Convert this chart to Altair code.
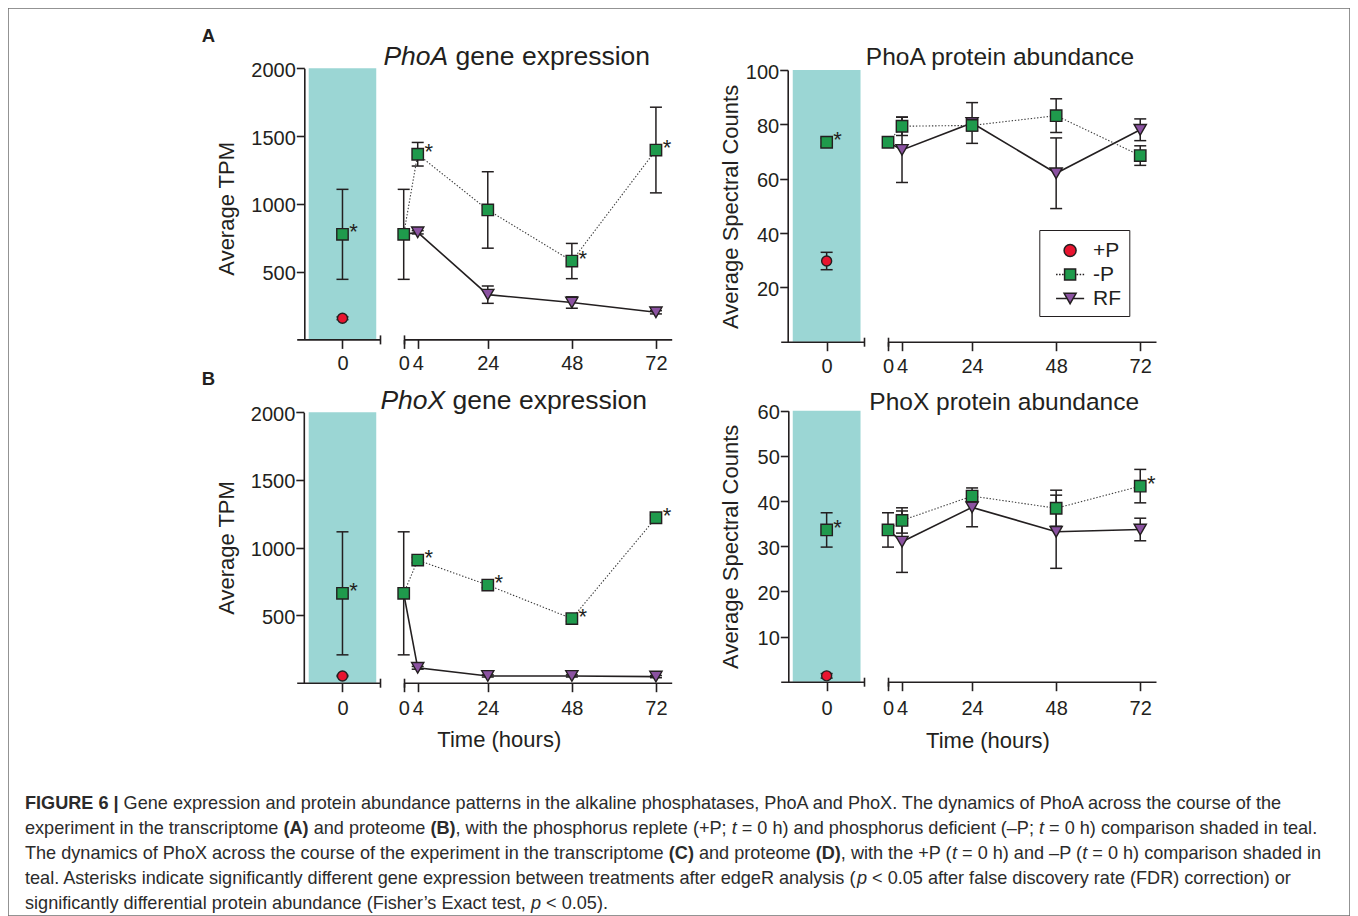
import altair as alt
import pandas as pd

# ----------------------------------------------------------------- data
TIME = [0, 4, 24, 48, 72]          # hours, time-course sub-panel
TIME_RF = [4, 24, 48, 72]          # RF markers (t = 0 is the shared -P sample)
SERIES = ["+P", "-P", "RF"]
SHADE_X = [-0.9, 0.9]              # teal comparison band around t = 0

GENE_Y_TICKS = [500, 1000, 1500, 2000]
PHOA_PROT_TICKS = [20, 40, 60, 80, 100]
PHOX_PROT_TICKS = [10, 20, 30, 40, 50, 60]
TC_X_TICKS = [0, 4, 24, 48, 72]
LEFT_X_TICKS = [0]

# A: PhoA gene expression (Average TPM)
A_PLUS0, A_PLUS0_ERR = 156, 10
A_MINUS = [775, 1366, 955, 578, 1397]
A_MINUS_ERR = [332, 87, 282, 130, 316]
A_RF = [775, 790, 330, 272, 200]
A_RF_ERR = [12, 64, 42, 12]
A_STARS = [4, 48, 72]

# B: PhoX gene expression (Average TPM)
B_PLUS0, B_PLUS0_ERR = 50, 5
B_MINUS = [661, 907, 722, 474, 1220]
B_MINUS_ERR = [455, 20, 20, 20, 20]
B_RF = [661, 110, 50, 50, 45]
B_RF_ERR = [10, 8, 8, 8]
B_STARS = [4, 24, 48, 72]

# C: PhoA protein abundance (Average Spectral Counts)
C_PLUS0, C_PLUS0_ERR = 29.7, 3.2
C_MINUS = [73.4, 79.3, 79.6, 83.2, 68.5]
C_MINUS_ERR = [1.5, 3.4, 2.0, 6.2, 3.6]
C_RF = [73.4, 70.6, 80.5, 62.0, 78.0]
C_RF_ERR = [12.0, 7.5, 13.0, 4.0]
C_STARS = []

# D: PhoX protein abundance (Average Spectral Counts)
D_PLUS0, D_PLUS0_ERR = 1.3, 0.5
D_MINUS = [33.6, 35.7, 41.1, 38.4, 43.3]
D_MINUS_ERR = [3.8, 2.8, 1.0, 4.0, 3.7]
D_RF = [33.6, 31.0, 38.6, 33.2, 33.7]
D_RF_ERR = [6.8, 4.3, 8.1, 2.5]
D_STARS = [72]

CAPTION = [
    [("FIGURE 6 |", "b"), (" Gene expression and protein abundance patterns in the alkaline phosphatases, PhoA and PhoX. The dynamics of PhoA across the course of the", "")],
    [("experiment in the transcriptome ", ""), ("(A)", "b"), (" and proteome ", ""), ("(B)", "b"),
     (", with the phosphorus replete (+P; ", ""), ("t", "i"), (" = 0 h) and phosphorus deficient (\u2013P; ", ""),
     ("t", "i"), (" = 0 h) comparison shaded in teal.", "")],
    [("The dynamics of PhoX across the course of the experiment in the transcriptome ", ""), ("(C)", "b"),
     (" and proteome ", ""), ("(D)", "b"), (", with the +P (", ""), ("t", "i"), (" = 0 h) and \u2013P (", ""),
     ("t", "i"), (" = 0 h) comparison shaded in", "")],
    [("teal. Asterisks indicate significantly different gene expression between treatments after edgeR analysis (", ""),
     ("p", "i"), (" < 0.05 after false discovery rate (FDR) correction) or", "")],
    [("significantly differential protein abundance (Fisher\u2019s Exact test, ", ""), ("p", "i"), (" < 0.05).", "")],
]

# ----------------------------------------------------------------- style / layout
FONT = "Liberation Sans"
INK = "#231f20"
TEAL = "#9bd6d4"
RED = "#e8142f"
GREEN = "#1f9a4c"
PURPLE = "#8b52a1"
FRAME = "#707070"

W, H = 1342, 908
LX_DOMAIN = [-1.22, 1.0]
TX_DOMAIN = [0, 76.5]

GEOM = {
    "A": dict(y_rng=[331.4, 60.3], y_axis_x=296.3, lx_rng=[288.7, 372.0], tx_rng=[395.7, 663.7],
              ytitle=(-70.3, 200.3), xlabpad=5.5, title=(508.7, 57), xtitle=None),
    "B": dict(y_rng=[674.7, 404.3], y_axis_x=295.8, lx_rng=[288.7, 372.0], tx_rng=[395.7, 663.7],
              ytitle=(-70.3, 539.5), xlabpad=7, title=(505.7, 401.3), xtitle=(490.8, 63.3)),
    "C": dict(y_rng=[333.7, 62.0], y_axis_x=779.7, lx_rng=[772.7, 856.3], tx_rng=[880.0, 1148.0],
              ytitle=(-50.2, 198.4), xlabpad=6, title=(992, 57), xtitle=None),
    "D": dict(y_rng=[673.7, 402.7], y_axis_x=780.3, lx_rng=[772.7, 856.3], tx_rng=[880.0, 1148.0],
              ytitle=(-50.8, 538.3), xlabpad=7.5, title=(996.2, 402), xtitle=(979.5, 65.6)),
}

PANELS = {
    "A": dict(ymax=2000, yticks=GENE_Y_TICKS, ytitle="Average TPM", plus=A_PLUS0, plus_err=A_PLUS0_ERR,
              minus=A_MINUS, minus_err=A_MINUS_ERR, rf=A_RF, rf_err=A_RF_ERR, stars=A_STARS,
              title=("PhoA", " gene expression")),
    "B": dict(ymax=2000, yticks=GENE_Y_TICKS, ytitle="Average TPM", plus=B_PLUS0, plus_err=B_PLUS0_ERR,
              minus=B_MINUS, minus_err=B_MINUS_ERR, rf=B_RF, rf_err=B_RF_ERR, stars=B_STARS,
              title=("PhoX", " gene expression")),
    "C": dict(ymax=100, yticks=PHOA_PROT_TICKS, ytitle="Average Spectral Counts", plus=C_PLUS0,
              plus_err=C_PLUS0_ERR, minus=C_MINUS, minus_err=C_MINUS_ERR, rf=C_RF, rf_err=C_RF_ERR,
              stars=C_STARS, title=(None, "PhoA protein abundance")),
    "D": dict(ymax=60, yticks=PHOX_PROT_TICKS, ytitle="Average Spectral Counts", plus=D_PLUS0,
              plus_err=D_PLUS0_ERR, minus=D_MINUS, minus_err=D_MINUS_ERR, rf=D_RF, rf_err=D_RF_ERR,
              stars=D_STARS, title=(None, "PhoX protein abundance")),
}

# Arial / Liberation Sans advance widths (1/1000 em) for laying out mixed-style text
AR = {' ': 278, '!': 278, '"': 355, '#': 556, '$': 556, '%': 889, '&': 667, "'": 191, '(': 333, ')': 333,
      '*': 389, '+': 584, ',': 278, '-': 333, '.': 278, '/': 278, ':': 278, ';': 278, '<': 584, '=': 584,
      '>': 584, '?': 556, '@': 1015, '\u2013': 556, '\u2019': 222, '|': 260}
AR.update({c: 556 for c in "0123456789"})
AR.update(dict(zip("ABCDEFGHIJKLMNOPQRSTUVWXYZ",
                   [667, 667, 722, 722, 667, 611, 778, 722, 278, 500, 667, 556, 833, 722, 778, 667, 778, 722,
                    667, 611, 722, 667, 944, 667, 667, 611])))
AR.update(dict(zip("abcdefghijklmnopqrstuvwxyz",
                   [556, 556, 500, 556, 556, 278, 556, 556, 222, 222, 500, 222, 833, 556, 556, 556, 556, 333,
                    500, 278, 556, 500, 722, 500, 500, 500])))
AB = {' ': 278, '(': 333, ')': 333, '|': 280, 'A': 722, 'B': 722, 'C': 722, 'D': 722, 'E': 667, 'F': 611,
      'G': 778, 'I': 278, 'R': 722, 'U': 722}
AB.update({c: 556 for c in "0123456789"})


def tw(s, size, bold=False):
    tab = AB if bold else AR
    return sum(tab.get(ch, AR.get(ch, 556)) for ch in s) * size / 1000.0


ONE = pd.DataFrame({"_": [0]})


def txt(s, x, y, size, weight="normal", style="normal", align="left", color=INK):
    return alt.Chart(ONE).mark_text(
        text=s, font=FONT, fontSize=size, fontWeight=weight, fontStyle=style, align=align,
        baseline="alphabetic", color=color
    ).encode(x=alt.value(x), y=alt.value(y))


AXIS_STYLE = dict(labelFont=FONT, labelColor=INK, tickColor=INK, domainColor=INK, domainWidth=1.6,
                  tickWidth=1.6, grid=False, labelFlush=False, labelOverlap=False, zindex=1, format="d")


def panel(key):
    d, g = PANELS[key], GEOM[key]
    ysc = alt.Scale(domain=[0, d["ymax"]], range=g["y_rng"], nice=False, zero=False)
    lsc = alt.Scale(domain=LX_DOMAIN, range=g["lx_rng"], nice=False, zero=False)
    tsc = alt.Scale(domain=TX_DOMAIN, range=g["tx_rng"], nice=False, zero=False)
    base_off = g["y_rng"][0] - H

    def Y(f, axis=None):
        return alt.Y(f, scale=ysc, axis=axis)

    def LX(f, axis=None):
        return alt.X(f, scale=lsc, axis=axis)

    def TX(f, axis=None):
        return alt.X(f, scale=tsc, axis=axis)

    y_axis = alt.Axis(orient="left", offset=-g["y_axis_x"], values=d["yticks"], tickSize=8, labelFontSize=20,
                      labelPadding=1, labelOffset=2, title=d["ytitle"], titleFont=FONT, titleFontSize=22,
                      titleFontWeight="normal", titleColor=INK, titleAngle=270, titleAlign="center",
                      titleBaseline="alphabetic", titleX=g["ytitle"][0], titleY=g["ytitle"][1], **AXIS_STYLE)

    def main_x_axis(ticks, title=None):
        kw = dict(orient="bottom", offset=base_off, values=ticks, tickSize=9, labelFontSize=20,
                  labelPadding=g["xlabpad"], **AXIS_STYLE)
        if title:
            kw.update(title="Time (hours)", titleFont=FONT, titleFontSize=22, titleFontWeight="normal",
                      titleColor=INK, titleX=title[0], titleY=title[1], titleAlign="center",
                      titleBaseline="alphabetic", titleAngle=0)
        else:
            kw["title"] = None
        return alt.Axis(**kw)

    def cap_axis(value):
        return alt.Axis(orient="bottom", offset=base_off - 4.5, values=[value], tickSize=9, labels=False,
                        domain=False, title=None, tickColor=INK, tickWidth=1.6, grid=False, zindex=1)

    rule = dict(color=INK, strokeWidth=1.5)
    cap = dict(orient="horizontal", color=INK, thickness=1.5, size=12, opacity=1)
    pt = dict(filled=True, stroke=INK, strokeWidth=1.4, opacity=1)
    star = dict(text="*", font=FONT, fontSize=22, color=INK, align="center", baseline="alphabetic", dx=11, dy=5)

    L = []
    # ---- left sub-panel (t = 0 comparison, shaded teal)
    shade = pd.DataFrame({"x": [SHADE_X[0]], "x2": [SHADE_X[1]], "y": [0], "y2": [d["ymax"]]})
    L.append(alt.Chart(shade).mark_rect(fill=TEAL).encode(
        x=LX("x:Q", main_x_axis(LEFT_X_TICKS)), x2="x2:Q", y=Y("y:Q", y_axis), y2="y2:Q"))
    m0, e0 = d["minus"][0], d["minus_err"][0]
    lerr = pd.DataFrame({"x": [0, 0], "lo": [d["plus"] - d["plus_err"], m0 - e0],
                         "hi": [d["plus"] + d["plus_err"], m0 + e0]})
    L.append(alt.Chart(lerr).mark_rule(**rule).encode(x=LX("x:Q", cap_axis(LX_DOMAIN[1])), y=Y("lo:Q"), y2="hi:Q"))
    L.append(alt.Chart(lerr).transform_fold(["lo", "hi"], as_=["k", "v"]).mark_tick(**cap).encode(
        x=LX("x:Q"), y=Y("v:Q")))
    L.append(alt.Chart(pd.DataFrame({"x": [0], "v": [d["plus"]]})).mark_point(
        shape="circle", fill=RED, size=100, **pt).encode(x=LX("x:Q"), y=Y("v:Q")))
    L.append(alt.Chart(pd.DataFrame({"x": [0], "v": [m0]})).mark_point(
        shape="square", fill=GREEN, size=130, **pt).encode(x=LX("x:Q"), y=Y("v:Q")))
    L.append(alt.Chart(pd.DataFrame({"x": [0], "v": [m0]})).mark_text(**star).encode(x=LX("x:Q"), y=Y("v:Q")))

    # ---- time-course sub-panel
    rf_df = pd.DataFrame({"t": TIME, "v": d["rf"]})
    mi_df = pd.DataFrame({"t": TIME, "v": d["minus"]})
    L.append(alt.Chart(rf_df).mark_line(color=INK, strokeWidth=1.6).encode(
        x=TX("t:Q", main_x_axis(TC_X_TICKS, g["xtitle"])), y=Y("v:Q")))
    L.append(alt.Chart(mi_df).mark_line(color="#3c3c3c", strokeWidth=1.1, strokeDash=[1.4, 1.8]).encode(
        x=TX("t:Q", cap_axis(TX_DOMAIN[0])), y=Y("v:Q")))
    err = pd.DataFrame({
        "t": TIME + TIME_RF,
        "lo": [v - e for v, e in zip(d["minus"], d["minus_err"])] + [v - e for v, e in zip(d["rf"][1:], d["rf_err"])],
        "hi": [v + e for v, e in zip(d["minus"], d["minus_err"])] + [v + e for v, e in zip(d["rf"][1:], d["rf_err"])],
    })
    L.append(alt.Chart(err).mark_rule(**rule).encode(x=TX("t:Q"), y=Y("lo:Q"), y2="hi:Q"))
    L.append(alt.Chart(err).transform_fold(["lo", "hi"], as_=["k", "v"]).mark_tick(**cap).encode(
        x=TX("t:Q"), y=Y("v:Q")))
    L.append(alt.Chart(pd.DataFrame({"t": TIME_RF, "v": d["rf"][1:]})).mark_point(
        shape="triangle-down", fill=PURPLE, size=150, **pt).encode(x=TX("t:Q"), y=Y("v:Q")))
    L.append(alt.Chart(mi_df).mark_point(shape="square", fill=GREEN, size=130, **pt).encode(
        x=TX("t:Q"), y=Y("v:Q")))
    if d["stars"]:
        st = pd.DataFrame({"t": d["stars"], "v": [d["minus"][TIME.index(t)] for t in d["stars"]]})
        L.append(alt.Chart(st).mark_text(**star).encode(x=TX("t:Q"), y=Y("v:Q")))

    # ---- panel title
    ital, rest = d["title"]
    cx, by = g["title"]
    if ital:
        fs = 26.5
        total = tw(ital + rest, fs)
        x0 = cx - total / 2
        L.append(txt(ital, x0, by, fs, style="italic"))
        L.append(txt(rest.lstrip(), x0 + tw(ital + " ", fs), by, fs))
    else:
        L.append(txt(rest, cx, by, 24.5, align="center"))
    return L


layers = []
for k in ["A", "B", "C", "D"]:
    layers += panel(k)

# panel letters
layers.append(txt("A", 193.7, 33.7, 18.5, weight="bold"))
layers.append(txt("B", 193.7, 377, 18.5, weight="bold"))


# ---- legend (inside the PhoA protein panel); symbols = marker + line stub
def _dash_pairs(a, b, step=0.25, dash=0.125):
    out, x = [], a
    while x + dash <= b + 1e-9:
        out.append((x, x + dash))
        x += step
    return out


_pairs = _dash_pairs(-1.17, -0.5)
_dots = "".join("M%.3f,0H%.3f" % (a, b) for a, b in _pairs) + \
        "".join("M%.3f,0H%.3f" % (-b, -a) for a, b in _pairs)
LEG_PATHS = [
    "M-0.5,0A0.5,0.5 0 1 0 0.5,0A0.5,0.5 0 1 0 -0.5,0Z",
    "M-0.46,-0.46H0.46V0.46H-0.46Z" + _dots,
    "M-0.5,-0.43H0.5L0,0.43Z" + "M-1.17,0H-0.25M0.25,0H1.17",
]
leg = alt.Legend(orient="none", legendX=1031.3, legendY=222, title=None, strokeColor=INK, padding=7.5,
                 labelFont=FONT, labelFontSize=21, labelColor=INK, symbolSize=576, symbolStrokeColor=INK,
                 symbolStrokeWidth=1.5, symbolOffset=10.3, labelOffset=10, rowPadding=1.0, symbolOpacity=1,
                 labelExpr="datum.label + '\u00a0\u00a0\u00a0'")
layers.append(
    alt.Chart(pd.DataFrame({"series": SERIES})).transform_filter("false")
    .mark_point(filled=True, opacity=1, strokeWidth=1.5)
    .encode(shape=alt.Shape("series:N", scale=alt.Scale(domain=SERIES, range=LEG_PATHS), legend=leg),
            fill=alt.Fill("series:N", scale=alt.Scale(domain=SERIES, range=[RED, GREEN, PURPLE]), legend=leg),
            stroke=alt.Stroke("series:N", scale=alt.Scale(domain=SERIES, range=[INK, INK, INK]), legend=leg))
)

# ---- caption (mixed bold / italic runs laid out from font advance widths)
CAP_X0, CAP_Y0, CAP_DY, CAP_FS = 17, 801, 25, 18.1
for i, line in enumerate(CAPTION):
    x = CAP_X0
    y = CAP_Y0 + i * CAP_DY
    for seg, sty in line:
        bold = sty == "b"
        lead = len(seg) - len(seg.lstrip(" "))
        xs = x + tw(" " * lead, CAP_FS, bold)
        layers.append(txt(seg.strip(" "), xs, y, CAP_FS, weight="bold" if bold else "normal",
                          style="italic" if sty == "i" else "normal", color="#2b2b2b"))
        x += tw(seg, CAP_FS, bold)

chart = (
    alt.layer(*layers)
    .resolve_scale(x="independent", y="independent")
    .properties(width=W, height=H, autosize=alt.AutoSizeParams(type="none"), padding=0, background="white")
    .configure_view(stroke=FRAME, strokeWidth=1.5)
)
chart.save("out.html", embed_options={"renderer": "svg", "actions": False})
